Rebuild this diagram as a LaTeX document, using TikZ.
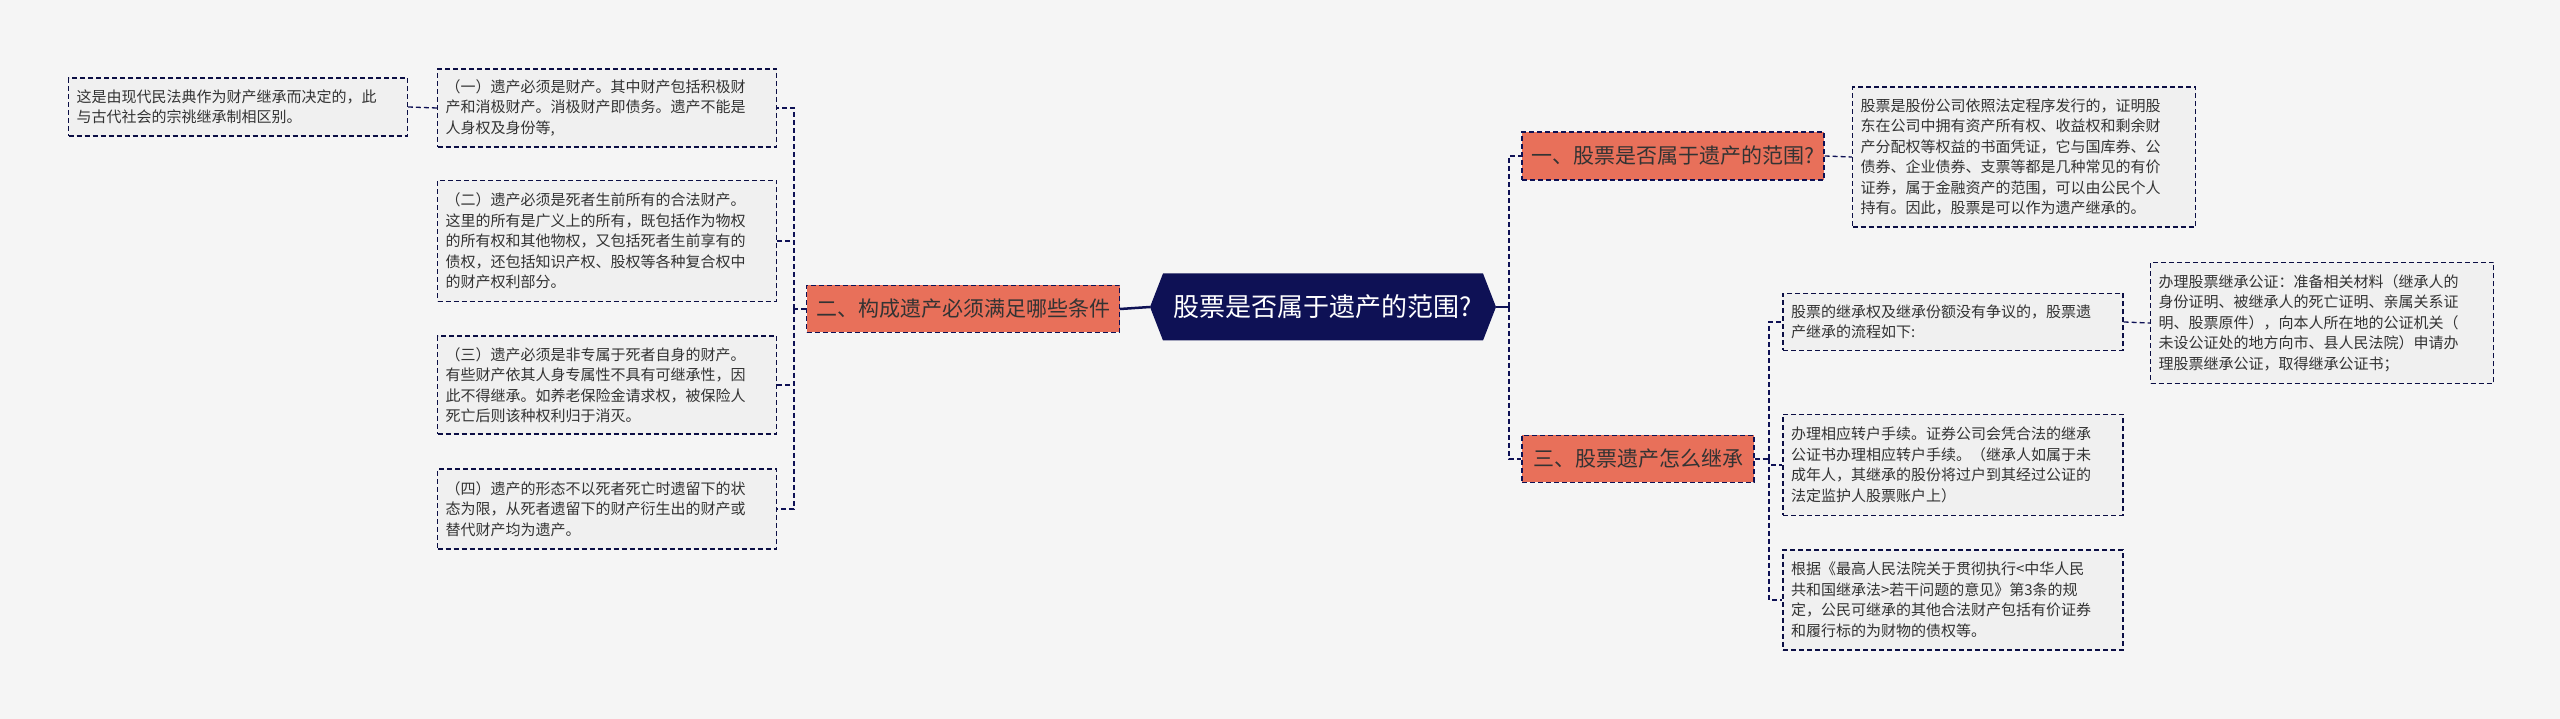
\documentclass[tikz,border=0pt]{standalone}
\usepackage{fontspec}
\setmainfont{Noto Sans CJK SC}
\definecolor{bg}{HTML}{F5F5F5}
\definecolor{boxfill}{HTML}{F0F0F0}
\definecolor{navy}{HTML}{0E1155}
\definecolor{orng}{HTML}{E8705A}
\definecolor{txt}{HTML}{333333}
\tikzset{
  leaf/.style={draw=navy!80!black, line width=1.3pt, dash pattern=on 5pt off 3pt, fill=boxfill, align=left, inner xsep=8pt, inner ysep=4pt, text=txt, font=\fontsize{15}{20.5}\selectfont, anchor=center},
  topic/.style={draw=navy, line width=1.3pt, dash pattern=on 5pt off 3pt, fill=orng, text=txt, font=\fontsize{21}{24}\selectfont, inner xsep=9pt, anchor=center},
  conn/.style={draw=navy, line width=1.3pt, dash pattern=on 5pt off 3pt},
  main/.style={draw=navy, line width=2.5pt}
}
\begin{document}
\begin{tikzpicture}[x=1pt,y=1pt]
\fill[bg] (0,0) rectangle (2560,719);
\useasboundingbox (0,0) rectangle (2560,719);
% centre
\fill[navy] (1150,412) -- (1163,445.5) -- (1483,445.5) -- (1496,412) -- (1483,378.5) -- (1163,378.5) -- cycle;
\node[text=white, font=\fontsize{26}{30}\selectfont, anchor=center, inner sep=0pt] (c) at (1323,412) {股票是否属于遗产的范围?};
% left side
\node[topic, minimum width=313pt, minimum height=47pt] (n2) at (963,410) {二、构成遗产必须满足哪些条件};
\node[leaf, text width=323pt, minimum height=78pt] (b1) at (607,611) {（一）遗产必须是财产。其中财产包括积极财\\产和消极财产。消极财产即债务。遗产不能是\\人身权及身份等,};
\node[leaf, text width=323pt, minimum height=121pt] (b2) at (607,478) {（二）遗产必须是死者生前所有的合法财产。\\这里的所有是广义上的所有，既包括作为物权\\的所有权和其他物权，又包括死者生前享有的\\债权，还包括知识产权、股权等各种复合权中\\的财产权利部分。};
\node[leaf, text width=323pt, minimum height=98pt] (b3) at (607,334) {（三）遗产必须是非专属于死者自身的财产。\\有些财产依其人身专属性不具有可继承性，因\\此不得继承。如养老保险金请求权，被保险人\\死亡后则该种权利归于消灭。};
\node[leaf, text width=323pt, minimum height=80pt] (b4) at (607,210) {（四）遗产的形态不以死者死亡时遗留下的状\\态为限，从死者遗留下的财产衍生出的财产或\\替代财产均为遗产。};
\node[leaf, text width=323pt, minimum height=58pt] (a) at (238,612) {这是由现代民法典作为财产继承而决定的，此\\与古代社会的宗祧继承制相区别。};
% right side
\node[topic, minimum width=302pt, minimum height=48pt] (n1) at (1673,563) {一、股票是否属于遗产的范围?};
\node[topic, minimum width=232pt, minimum height=47pt] (n3) at (1638,260) {三、股票遗产怎么继承};
\node[leaf, text width=327pt, minimum height=140pt] (s) at (2024,562) {股票是股份公司依照法定程序发行的，证明股\\东在公司中拥有资产所有权、收益权和剩余财\\产分配权等权益的书面凭证，它与国库券、公\\债券、企业债券、支票等都是几种常见的有价\\证券，属于金融资产的范围，可以由公民个人\\持有。因此，股票是可以作为遗产继承的。};
\node[leaf, text width=324pt, minimum height=57pt] (p) at (1953,397) {股票的继承权及继承份额没有争议的，股票遗\\产继承的流程如下:};
\node[leaf, text width=327pt, minimum height=121pt] (g) at (2322,396) {办理股票继承公证：准备相关材料（继承人的\\身份证明、被继承人的死亡证明、亲属关系证\\明、股票原件），向本人所在地的公证机关（\\未设公证处的地方向市、县人民法院）申请办\\理股票继承公证，取得继承公证书；};
\node[leaf, text width=324pt, minimum height=101pt] (z) at (1953,254) {办理相应转户手续。证券公司会凭合法的继承\\公证书办理相应转户手续。（继承人如属于未\\成年人，其继承的股份将过户到其经过公证的\\法定监护人股票账户上）};
\node[leaf, text width=324pt, minimum height=100pt] (r) at (1953,119) {根据《最高人民法院关于贯彻执行<中华人民\\共和国继承法>若干问题的意见》第3条的规\\定，公民可继承的其他合法财产包括有价证券\\和履行标的为财物的债权等。};
% connectors
\draw[main] (1150,412) -- (n2.east);
\draw[main] (1496,412) -- (1509,412);
\draw[conn] (1509,412) |- (n1.west);
\draw[conn] (1509,412) |- (n3.west);
\draw[conn] (n2.west) -- (794,410);
\foreach \t in {b1,b2,b3,b4} \draw[conn] (794,410) |- (\t.east);
\draw[conn] (b1.west) -- (a.east);
\draw[conn] (n1.east) -- (s.west);
\draw[conn] (n3.east) -- (1769,260);
\foreach \t in {p,z,r} \draw[conn] (1769,260) |- (\t.west);
\draw[conn] (p.east) -- (g.west);
\end{tikzpicture}
\end{document}
